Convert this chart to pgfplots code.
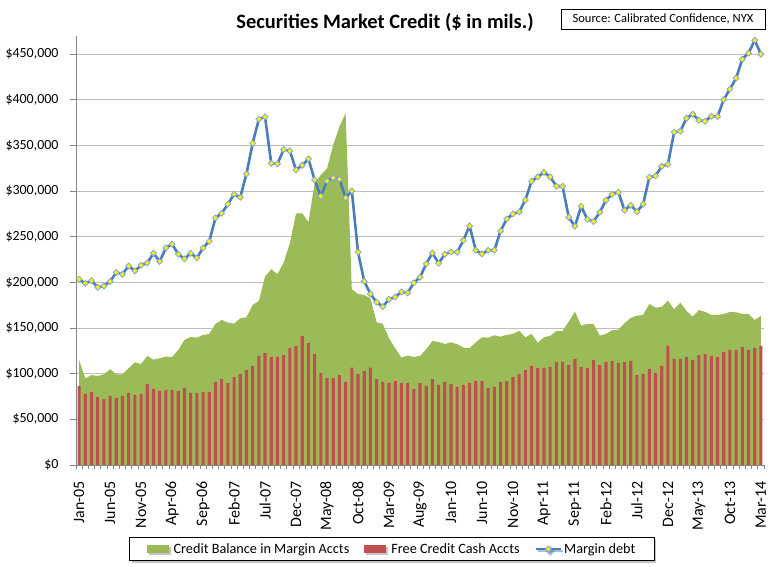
\documentclass[border=0pt]{standalone}
\usepackage{fontspec}
\setmainfont{Carlito}
\usepackage{pgfplots}
\usepackage{pgfplotstable}
\pgfplotsset{compat=1.18}
\usetikzlibrary{shadows}
\definecolor{cgreen}{HTML}{9BBB59}
\definecolor{cred}{HTML}{C0504D}
\definecolor{cblue}{HTML}{4A7EBB}
\definecolor{mborder}{HTML}{7EA6DA}
\definecolor{axgray}{HTML}{868686}
\definecolor{gridgray}{HTML}{BEBEBE}

\pgfplotstableread{
x credit cash margin
0 115000 86600 203500
1 95000 77800 199000
2 98600 80000 202000
3 97500 74500 194700
4 99400 72300 196000
5 104900 75600 201000
6 99400 73400 211000
7 99400 75600 209000
8 106000 78900 218000
9 112500 76700 212600
10 110700 77800 218800
11 119500 88800 221400
12 115400 83300 232000
13 116900 81100 223000
14 118700 82200 237800
15 118300 82200 242000
16 126000 81100 231000
17 137000 84400 225800
18 140300 78900 232000
19 139500 78900 226800
20 142500 80000 237800
21 143600 80000 245000
22 154500 91000 270700
23 158900 94200 275800
24 156000 89900 285700
25 154900 96400 296600
26 160700 99700 293300
27 161800 104100 318900
28 175300 108500 352500
29 179700 119500 378800
30 206400 122700 381400
31 214500 118400 330600
32 209000 118400 329900
33 221700 120500 345600
34 243000 128400 344100
35 275500 130400 323300
36 275800 141400 328400
37 266000 133700 335300
38 308700 121600 312300
39 317800 100800 294400
40 325000 95300 311200
41 350700 95300 314500
42 370700 98600 313100
43 385400 91000 292600
44 192500 106700 300300
45 187400 99700 233100
46 186300 103000 201300
47 182700 106700 187400
48 156400 94200 178300
49 154500 91000 173500
50 138800 89900 181600
51 127900 92000 184100
52 117600 89900 189600
53 119800 89900 188500
54 118400 83300 199500
55 119500 89900 205700
56 126800 86600 220300
57 135900 94200 232300
58 134800 87700 221000
59 132600 91000 230900
60 134400 88800 233400
61 132300 85500 233100
62 128600 87700 246200
63 127900 89900 261900
64 134400 92000 235300
65 139900 92000 231200
66 139500 84400 235300
67 142100 85500 235300
68 140600 91000 256400
69 142500 92000 269600
70 143600 96400 275100
71 147000 99700 277300
72 139900 104100 290400
73 143600 108500 310900
74 134000 106300 315600
75 139900 106300 320700
76 141400 107400 315600
77 146800 112900 305400
78 146800 112900 305400
79 157000 109600 271400
80 168000 116200 261600
81 152700 107400 283500
82 154500 106300 269200
83 154500 115100 266700
84 141700 109600 276900
85 143600 112900 290000
86 147600 114000 296600
87 148300 111800 298800
88 155300 112900 279100
89 161100 114000 284600
90 163600 98600 277600
91 164400 99700 285700
92 176400 105200 315300
93 172400 100800 316700
94 173200 108500 327300
95 180100 130700 329500
96 170600 116200 364600
97 177900 116200 365700
98 168800 118400 379900
99 162500 115100 384300
100 169900 120500 377700
101 167700 121600 376600
102 164400 119500 382100
103 164400 118400 381800
104 165500 123800 400300
105 167700 126000 411700
106 167300 126000 423800
107 165500 129300 444600
108 165500 126000 451200
109 158900 128200 465400
110 163300 130400 450100
}\datatable

\begin{document}
\begin{tikzpicture}
\useasboundingbox (0,0) rectangle (780bp,567bp);
\begin{axis}[
  at={(76bp,102bp)}, anchor=south west,
  scale only axis, width=688bp, height=429bp,
  xmin=-0.5, xmax=110.5, ymin=0, ymax=470000,
  axis x line*=bottom, axis y line*=left,
  axis line style={draw=axgray, line width=0.8bp, -},
  every outer x axis line/.append style={-},
  every outer y axis line/.append style={-},
  xtick={0,5,...,110},
  xticklabels={Jan-05,Jun-05,Nov-05,Apr-06,Sep-06,Feb-07,Jul-07,Dec-07,May-08,Oct-08,Mar-09,Aug-09,Jan-10,Jun-10,Nov-10,Apr-11,Sep-11,Feb-12,Jul-12,Dec-12,May-13,Oct-13,Mar-14},
  xtick style={draw=none},
  minor xtick={-0.5,0.5,...,110.5},
  minor x tick style={draw=axgray, line width=0.7bp},
  minor tick length=4bp,
  major tick length=6bp,
  tick align=outside,
  ytick={0,50000,...,450000},
  yticklabels={{\$0},{\$50,000},{\$100,000},{\$150,000},{\$200,000},{\$250,000},{\$300,000},{\$350,000},{\$400,000},{\$450,000}},
  ytick style={draw=axgray, line width=0.8bp},
  ymajorgrids,
  grid style={draw=gridgray, line width=0.9bp},
  xticklabel style={rotate=90, anchor=east, font=\fontsize{16}{18}\selectfont, xshift=-7bp, yshift=0bp},
  yticklabel style={font=\fontsize{14}{16}\selectfont, xshift=-8bp},
  scaled y ticks=false,
  legend columns=3,
  legend style={
    at={(0.4593,-0.196)}, anchor=center,
    draw=black, line width=0.9bp, fill=white,
    drop shadow={shadow xshift=2bp, shadow yshift=-2bp, opacity=0.45},
    font=\fontsize{14.3}{16}\selectfont,
    /tikz/every even column/.append style={column sep=13bp},
    inner xsep=17bp, inner ysep=4bp,
  },
]
\addplot[fill=cgreen, draw=none, legend image code/.code={\fill[cgreen] (0bp,-4bp) rectangle (22bp,4bp); \path (0bp,0bp) -- (25bp,0bp);}]
  table[x=x, y=credit] {\datatable} \closedcycle;
\addlegendentry{Credit Balance in Margin Accts}
\addplot[ybar, bar width=0.5, fill=cred, draw=none, legend image code/.code={\fill[cred] (0bp,-4bp) rectangle (22bp,4bp); \path (0bp,0bp) -- (25bp,0bp);}]
  table[x=x, y=cash] {\datatable};
\addlegendentry{Free Credit Cash Accts}
\addplot[cblue, line width=2.6bp, mark=square*, mark size=2.1bp,
  mark options={fill=yellow, draw=mborder, line width=0.8bp, rotate=45},
  legend image code/.code={\draw[cblue, line width=2.6bp] (0bp,0bp) -- (25bp,0bp); \fill[yellow, draw=mborder, line width=0.8bp] (12.5bp,3bp) -- (15.5bp,0bp) -- (12.5bp,-3bp) -- (9.5bp,0bp) -- cycle;}]
  table[x=x, y=margin] {\datatable};
\addlegendentry{Margin debt}
\end{axis}
\node[font=\bfseries\fontsize{20.5}{22}\selectfont] at (385bp,545bp) {Securities Market Credit (\$ in mils.)};
\node[draw=black, line width=0.8bp, font=\fontsize{12.6}{14}\selectfont, minimum width=204bp, minimum height=20bp, inner sep=0pt] at (663bp,547.7bp) {Source: Calibrated Confidence, NYX};
\end{tikzpicture}
\end{document}
